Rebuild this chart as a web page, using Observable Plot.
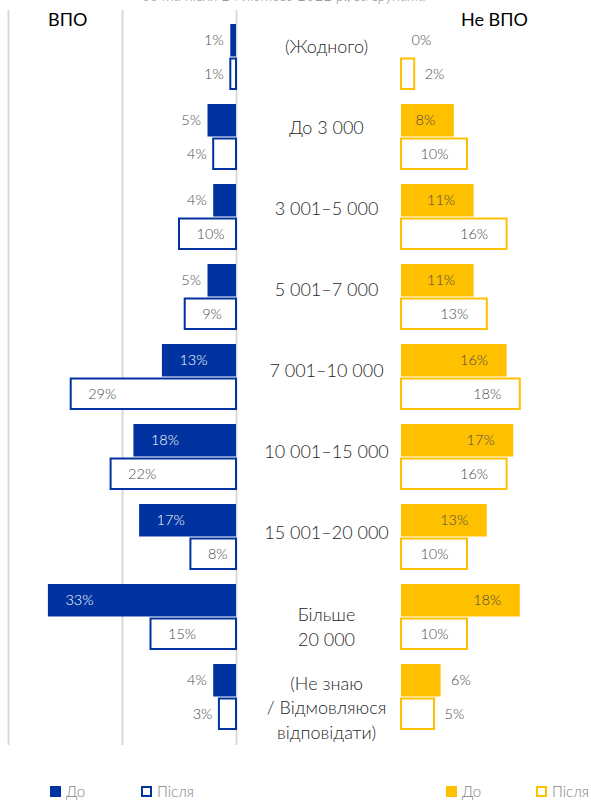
<!DOCTYPE html>
<html>
<head>
<meta charset="utf-8">
<script src="https://cdn.jsdelivr.net/npm/d3@7"></script>
<script src="https://cdn.jsdelivr.net/npm/@observablehq/plot@0.6"></script>
<style>
  body { margin: 0; background: #fff; font-family: Lato, "Open Sans", sans-serif; }
  #root { position: relative; width: 591px; height: 800px; overflow: hidden; }
  .abs { position: absolute; }
  .hdr { font-size: 18px; color: #000; font-weight: 400; }
  .leg { font-size: 15px; color: #7f7f7f; display: flex; align-items: center; font-weight: 300; }
  .sq { width: 11px; height: 11px; box-sizing: border-box; margin-right: 5px; }
  .sub { font-style: italic; color: #8c8c8c; font-size: 15px; white-space: nowrap; font-weight: 300; }
</style>
</head>
<body>
<div id="root"></div>
<script>
const categories = ["(Жодного)", "До 3 000", "3 001–5 000", "5 001–7 000", "7 001–10 000", "10 001–15 000", "15 001–20 000", "Більше\n20 000", "(Не знаю\n/ Відмовляюся\nвідповідати)"];
const periods = ["До", "Після"];
const vpoBefore = [1, 5, 4, 5, 13, 18, 17, 33, 4];
const vpoAfter = [1, 4, 10, 9, 29, 22, 8, 15, 3];
const nonBefore = [0, 8, 11, 11, 16, 17, 13, 18, 6];
const nonAfter = [2, 10, 16, 13, 18, 16, 10, 10, 5];
const leftTicks = [0, 20, 40];

const BLUE = "#0033a0", YELLOW = "#ffc000", GRAY = "#4a4a4a";

function rows(before, after) {
  const out = [];
  categories.forEach((c, i) => {
    out.push({cat: c, period: periods[0], value: before[i]});
    out.push({cat: c, period: periods[1], value: after[i]});
  });
  return out;
}
const vpo = rows(vpoBefore, vpoAfter);
const non = rows(nonBefore, nonAfter);

const H = 760;
const yScale = {domain: categories, paddingInner: 0.173, paddingOuter: 0.124, align: 0.5, axis: null};
const common = {height: H, marginTop: 10, marginBottom: 15, style: {fontFamily: "Lato, 'Open Sans', sans-serif", background: "transparent"}};
const isB = d => d.period === "До";
const lbl = d => d.value + "%";
const FS = 14.5, FW = 300;

const root = document.getElementById("root");
function place(el, left, top) {
  el.classList.add("abs");
  el.style.left = left + "px";
  el.style.top = top + "px";
  root.appendChild(el);
}

// left panel (ВПО)
const leftFull = Plot.plot({
  ...common,
  width: 245, marginLeft: 8, marginRight: 9,
  x: {domain: [0, 40], reverse: true, axis: null},
  y: yScale,
  marks: [
    Plot.ruleX(leftTicks, {stroke: "#d9d9d9", strokeWidth: 2}),
    Plot.barX(vpo, {filter: isB, y: "cat", x: "value", fill: BLUE, insetBottom: 33.5}),
    Plot.barX(vpo, {filter: d => !isB(d), y: "cat", x: "value", fill: "white", stroke: BLUE, strokeWidth: 2, insetTop: 34.5, insetBottom: 1}),
    Plot.text(vpo, {filter: d => isB(d) && d.value >= 8, y: "cat", x: "value", text: lbl, textAnchor: "start", dx: 17, dy: -17, fontSize: FS, fontWeight: FW, fill: "white"}),
    Plot.text(vpo, {filter: d => !isB(d) && d.value >= 8, y: "cat", x: "value", text: lbl, textAnchor: "start", dx: 17, dy: 17, fontSize: FS, fontWeight: FW, fill: GRAY}),
    Plot.text(vpo, {filter: d => isB(d) && d.value < 8, y: "cat", x: "value", text: lbl, textAnchor: "end", dx: -7, dy: -17, fontSize: FS, fontWeight: FW, fill: GRAY}),
    Plot.text(vpo, {filter: d => !isB(d) && d.value < 8, y: "cat", x: "value", text: lbl, textAnchor: "end", dx: -7, dy: 17, fontSize: FS, fontWeight: FW, fill: GRAY}),
  ]
});
place(leftFull, 0, 0);

// middle labels
const oneLine = d => !d.includes("\n");
const mid = Plot.plot({
  ...common,
  width: 160, marginLeft: 0, marginRight: 0,
  y: yScale,
  marks: [
    Plot.text(categories, {filter: oneLine, y: d => d, text: d => d, fontSize: 18, fontWeight: FW, fill: "#262626", dy: -7}),
    Plot.text(categories, {filter: d => !oneLine(d), y: d => d, text: d => d, fontSize: 18, fontWeight: FW, lineHeight: 1.36, fill: "#262626", dy: 4})
  ]
});
place(mid, 246, 0);

// right panel (Не ВПО)
const right = Plot.plot({
  ...common,
  width: 196, marginLeft: 6, marginRight: 25,
  x: {domain: [0, 25], axis: null},
  y: yScale,
  marks: [
    Plot.barX(non, {filter: isB, y: "cat", x: "value", fill: YELLOW, insetBottom: 33.5}),
    Plot.barX(non, {filter: d => !isB(d), y: "cat", x: "value", fill: "white", stroke: YELLOW, strokeWidth: 2, insetTop: 34.5, insetBottom: 1}),
    Plot.text(non, {filter: d => isB(d) && d.value >= 8, y: "cat", x: "value", text: lbl, textAnchor: "end", dx: -19, dy: -17, fontSize: FS, fontWeight: FW, fill: GRAY}),
    Plot.text(non, {filter: d => !isB(d) && d.value >= 8, y: "cat", x: "value", text: lbl, textAnchor: "end", dx: -19, dy: 17, fontSize: FS, fontWeight: FW, fill: GRAY}),
    Plot.text(non, {filter: d => isB(d) && d.value < 8, y: "cat", x: "value", text: lbl, textAnchor: "start", dx: 10, dy: -17, fontSize: FS, fontWeight: FW, fill: GRAY}),
    Plot.text(non, {filter: d => !isB(d) && d.value < 8, y: "cat", x: "value", text: lbl, textAnchor: "start", dx: 10, dy: 17, fontSize: FS, fontWeight: FW, fill: GRAY}),
  ]
});
place(right, 395, 0);

// headers
function div(cls, html) { const d = document.createElement("div"); d.className = cls; d.innerHTML = html; return d; }
place(div("sub", "до та після 24 лютого 2022 р., за групами"), 143, -14);
place(div("hdr", "ВПО"), 48, 8);
place(div("hdr", "Не ВПО"), 461, 8);

// legend
function legItem(color, filled, text, x) {
  const d = document.createElement("div");
  d.className = "leg";
  const s = document.createElement("div");
  s.className = "sq";
  s.style.background = filled ? color : "white";
  s.style.border = "2px solid " + color;
  d.appendChild(s);
  d.appendChild(document.createTextNode(text));
  place(d, x, 782);
}
legItem(BLUE, true, periods[0], 50);
legItem(BLUE, false, periods[1], 141);
legItem(YELLOW, true, periods[0], 446);
legItem(YELLOW, false, periods[1], 536);
</script>
</body>
</html>
